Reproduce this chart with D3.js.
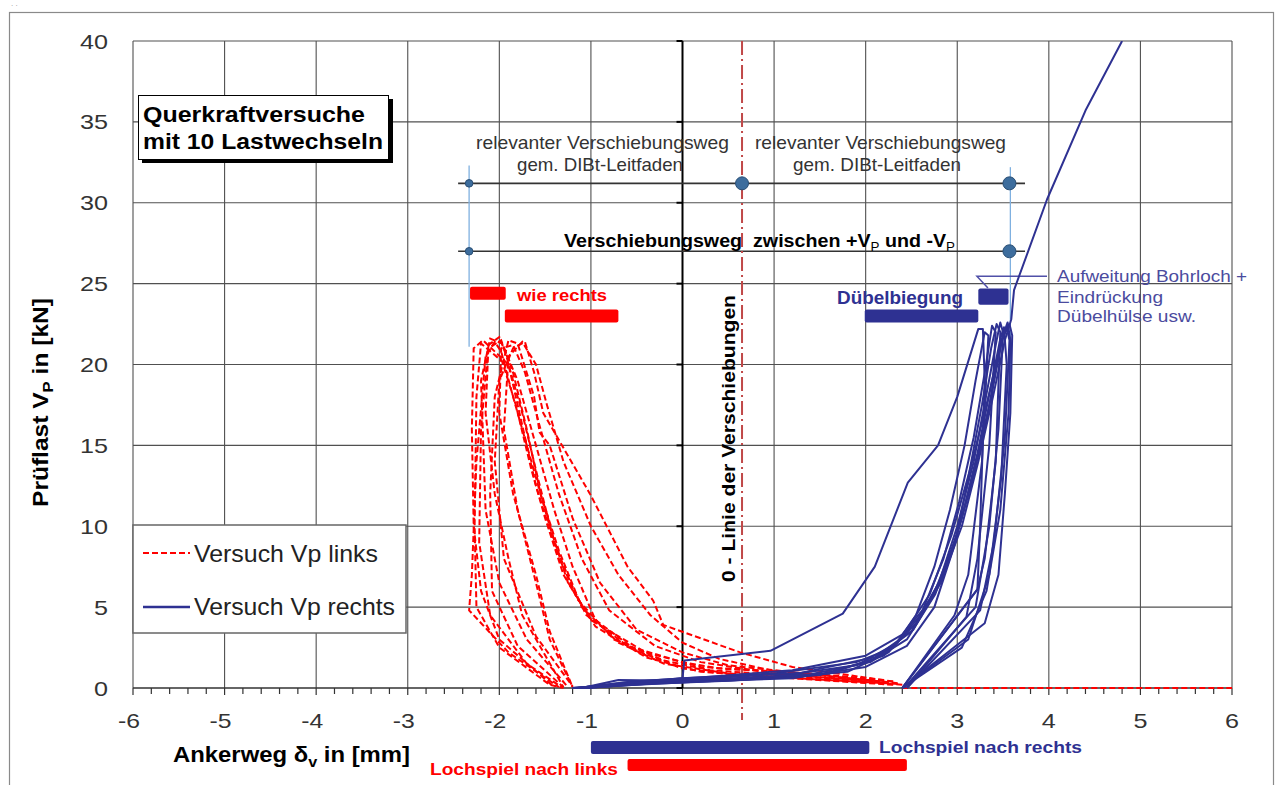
<!DOCTYPE html>
<html><head><meta charset="utf-8">
<script src="https://cdn.jsdelivr.net/npm/d3@7"></script>
<style>body{margin:0;background:#fff;} svg{display:block;} text{font-family:"Liberation Sans",Arial,sans-serif; white-space:pre;}</style>
</head><body><svg id="c" width="1278" height="785"></svg>
<script>
// ---------- data ----------
const xTicks = [-6,-5,-4,-3,-2,-1,0,1,2,3,4,5,6];
const yTicks = [0,5,10,15,20,25,30,35,40];

// left-direction load cycles (load magnitude vs. displacement), dashed red
const redCycles = [
  [[2.3,0.4],[1.2,1.3],[0.63,2.2],[-0.21,3.9],[-0.32,5.4],[-0.6,7.5],[-1.01,12],[-1.52,17],[-1.62,19.5],[-1.72,21.4],[-1.85,21.0],[-2.0,19],[-2.05,14],[-1.95,8],[-1.6,3.2],[-1.2,0.1]],
  [[2.35,0.3],[1.5,0.8],[0.5,1.4],[0,2.2],[-0.5,3.6],[-0.9,6.5],[-1.2,10.5],[-1.45,15],[-1.56,15.8],[-1.62,18],[-1.8,21.3],[-1.9,21.5],[-2.05,18],[-2.1,12],[-2.08,6],[-1.8,2.6],[-1.3,0.05]],
  [[2.2,0.5],[1.4,0.9],[0.4,1.2],[0,1.6],[-0.6,2.6],[-1.05,4.5],[-1.35,8],[-1.6,12.5],[-1.78,17],[-1.92,20.5],[-2.0,21.7],[-2.12,21.2],[-2.2,16],[-2.22,9],[-2.1,4.5],[-1.7,1.5],[-1.32,0.05]],
  [[2.3,0.2],[1.2,0.6],[0.2,1.0],[-0.4,1.9],[-0.95,3.8],[-1.25,6.5],[-1.45,10],[-1.65,14],[-1.85,18],[-1.98,20.8],[-2.05,21.4],[-2.15,20.5],[-2.25,14],[-2.3,7],[-2.33,4.8],[-1.9,2.2],[-1.35,0.05]],
  [[2.4,0.2],[1.6,0.5],[0.6,0.8],[0,1.2],[-0.5,2.3],[-0.95,4.2],[-1.2,7.5],[-1.4,11],[-1.6,15],[-1.8,19],[-1.97,21.3],[-2.1,21.6],[-2.2,19],[-2.15,11],[-2.0,6.5],[-1.7,3],[-1.25,0.05]],
  [[2.2,0.3],[1.0,0.9],[0.2,1.6],[-0.3,2.6],[-0.8,4.8],[-1.1,8],[-1.35,12],[-1.55,16],[-1.72,19.5],[-1.85,21.2],[-1.98,21.0],[-2.0,17],[-1.85,12],[-1.6,7],[-1.45,3.5],[-1.2,0.05]],
  [[2.3,0.4],[1.3,0.7],[0.3,1.1],[-0.2,1.7],[-0.75,3],[-1.15,5.5],[-1.4,9],[-1.58,13],[-1.75,17],[-1.9,20],[-2.18,21.5],[-2.28,21.0],[-2.3,16],[-2.28,10],[-2.2,6],[-2.0,3],[-1.4,0.05]],
  [[2.1,0.5],[1.1,1.0],[0.2,1.3],[-0.4,2.2],[-1.0,4.2],[-1.3,7],[-1.5,10.5],[-1.65,13.5],[-1.82,17.5],[-1.97,20.2],[-2.2,21.3],[-2.25,18],[-2.27,10],[-2.25,5],[-2.0,2.5],[-1.45,0.2],[-1.3,0]],
  [[2.35,0.25],[1.4,0.55],[0.5,0.9],[-0.2,1.5],[-0.7,2.8],[-1.1,5],[-1.35,8.5],[-1.55,12],[-1.7,16],[-1.85,19.5],[-1.98,21.5],[-2.12,21.0],[-2.15,17],[-2.05,12],[-1.9,8],[-1.75,4.5],[-1.3,0.05]],
  [[2.25,0.35],[1.2,0.8],[0.4,1.8],[0,2.8],[-0.35,4.5],[-0.7,7],[-1.0,10],[-1.3,14],[-1.48,17.5],[-1.6,20],[-1.75,21.4],[-1.9,20.5],[-1.95,16],[-1.8,11],[-1.6,6.5],[-1.45,3],[-1.2,0.05]]
];
const redTail = [[2.4,0],[6,0]];

// right-direction load cycles, solid blue
const blueCycles = [
  [[-1.2,0],[-0.5,0.3],[0,0.6],[0.02,1.7],[0.96,2.3],[1.75,4.6],[2.1,7.5],[2.46,12.7],[2.79,15],[3.0,18],[3.23,22.2],[3.28,22.2],[3.3,19],[3.25,10],[3.22,6.1],[2.4,0]],
  [[-1.15,0],[-0.6,0.35],[0,0.6],[1,0.9],[1.9,1.6],[2.3,2.5],[2.55,4.5],[2.75,7.5],[2.92,11],[3.08,15],[3.2,19],[3.3,22.0],[3.34,21.8],[3.27,14],[3.12,7],[2.97,4.5],[2.4,0]],
  [[-1.1,0],[-0.7,0.5],[0,0.45],[1,0.6],[1.8,1.0],[2.25,2.2],[2.6,4.5],[2.85,8],[3.02,11.5],[3.18,15.5],[3.3,19.5],[3.38,22.4],[3.42,22.0],[3.35,15],[3.22,8],[3.1,4.4],[2.45,0]],
  [[-1.2,0],[-0.5,0.2],[0.2,0.4],[1.2,0.6],[2.0,1.3],[2.45,2.6],[2.75,5],[2.98,9],[3.12,13],[3.27,17.5],[3.37,21],[3.43,22.5],[3.47,22.0],[3.42,14],[3.3,8],[3.22,6.1],[2.4,0]],
  [[-1.05,0],[-0.4,0.25],[0.5,0.45],[1.5,0.8],[2.1,1.8],[2.5,3.5],[2.8,6.5],[3.0,10],[3.18,14],[3.33,18.5],[3.43,21.5],[3.47,22.6],[3.5,22.0],[3.45,16],[3.35,10],[3.2,5],[2.42,0]],
  [[-1.1,0],[-0.3,0.3],[0.6,0.5],[1.6,0.9],[2.2,2.0],[2.55,4],[2.85,7],[3.05,10.5],[3.22,14.5],[3.38,19],[3.47,21.6],[3.51,22.3],[3.54,20],[3.48,13],[3.35,7],[3.12,3],[2.4,0]],
  [[-1.15,0],[-0.55,0.4],[0.3,0.7],[1.2,1.1],[2.0,2.0],[2.4,3.3],[2.72,5.5],[2.97,9],[3.15,12.5],[3.32,16.5],[3.46,21],[3.54,22.3],[3.57,21.5],[3.52,15.5],[3.4,9],[3.25,4.8],[2.45,0]],
  [[-1.2,0],[-0.6,0.25],[0.2,0.5],[1.0,0.7],[1.9,1.4],[2.35,2.8],[2.7,5.8],[2.94,9.5],[3.14,13.5],[3.34,18],[3.48,21.5],[3.57,22.5],[3.6,21.8],[3.58,17],[3.52,12],[3.45,7],[3.3,4],[2.4,0]],
  [[-1.05,0],[-0.4,0.3],[0.4,0.55],[1.4,0.85],[2.05,1.6],[2.45,3],[2.76,5.8],[3.0,9.5],[3.2,13.8],[3.37,18],[3.5,21.8],[3.55,22.6],[3.58,21.5],[3.56,17],[3.47,11],[3.32,6],[3.05,2.5],[2.4,0]],
  [[-1.1,0],[-0.5,0.35],[0.3,0.6],[1.3,0.95],[2.1,1.9],[2.52,3.6],[2.82,6.5],[3.05,10],[3.23,14],[3.39,18],[3.52,21.5],[3.59,22.8],[3.62,24.6],[3.98,30.2],[4.4,35.7],[4.8,40]]
];

// annotation spans (data units)
const zeroLineX = 0.65;
const dimLevels = [31.2, 27.0];
const dimSpan = [-2.45, 3.74];
const dimMarks = [[-2.33,31.2,3.8],[0.65,31.2,6.5],[3.57,31.2,6.5],[-2.33,27.0,3.8],[3.57,27.0,6.5]];
const redTopBars = [[-2.32,-1.93,24.8,24.0],[-1.94,-0.70,23.4,22.6]];
const blueTopBars = [[1.99,3.23,23.4,22.6],[3.23,3.56,24.7,23.7]];

// ---------- drawing ----------
const svg = d3.select('#c');
const x = d3.scaleLinear().domain([-6,6]).range([133,1232]);
const y = d3.scaleLinear().domain([0,40]).range([688,41]);

function label(parent, str, px, py, o={}) {
  const t = parent.append('text').attr('x',px).attr('y',py).text(str)
    .attr('font-size', o.size||18).attr('font-weight', o.bold?'bold':'normal')
    .attr('fill', o.fill||'#000').attr('text-anchor', o.anchor||'start');
  if (o.w) t.attr('textLength',o.w).attr('lengthAdjust','spacingAndGlyphs');
  if (o.rotate) t.attr('transform',`rotate(${o.rotate},${px},${py})`);
  return t;
}
function rich(parent, parts, px, py, o={}) {
  const size = o.size||18;
  const t = parent.append('text').attr('x',px).attr('y',py)
    .attr('font-size', size).attr('font-weight', o.bold?'bold':'normal').attr('fill', o.fill||'#000');
  let shifted = false;
  parts.forEach(p => {
    const s = t.append('tspan').text(p.t);
    if (p.sub) { s.attr('font-size', size*0.68).attr('dy', size*0.22); if (p.normal) s.attr('font-weight','normal'); shifted = true; }
    else if (shifted) { s.attr('dy', -size*0.22); shifted = false; }
  });
  if (o.w) t.attr('textLength',o.w).attr('lengthAdjust','spacingAndGlyphs');
  if (o.rotate) t.attr('transform',`rotate(${o.rotate},${px},${py})`);
  return t;
}

// outer frame
svg.append('rect').attr('x',9.5).attr('y',12.5).attr('width',1264).attr('height',800)
  .attr('fill','none').attr('stroke','#8a8a8a').attr('stroke-width',1.2);
svg.append('text').attr('x',11).attr('y',6).attr('font-size',8).attr('fill','#999').text('. .');

// grid
const grid = svg.append('g');
xTicks.filter(t=>t!==0).forEach(t => grid.append('line')
  .attr('x1',x(t)).attr('x2',x(t)).attr('y1',y(0)).attr('y2',y(40))
  .attr('stroke','#505050').attr('stroke-width',1.1));
yTicks.filter(t=>t!==0).forEach(t => grid.append('line')
  .attr('x1',x(-6)).attr('x2',x(6)).attr('y1',y(t)).attr('y2',y(t))
  .attr('stroke','#505050').attr('stroke-width',1.1));

// x axis line + ticks
grid.append('line').attr('x1',x(-6)).attr('x2',x(6)).attr('y1',y(0)).attr('y2',y(0))
  .attr('stroke','#333').attr('stroke-width',1.5);
d3.range(-30,31).forEach(k => {
  const v = k/5;
  grid.append('line').attr('x1',x(v)).attr('x2',x(v)).attr('y1',y(0)).attr('y2',y(0)+(k%5===0?7:6))
    .attr('stroke','#333').attr('stroke-width',1.2);
});
// y axis at x=0
grid.append('line').attr('x1',x(0)).attr('x2',x(0)).attr('y1',y(0)).attr('y2',y(40))
  .attr('stroke','#000').attr('stroke-width',2);
yTicks.forEach(t => grid.append('line').attr('x1',x(0)-6).attr('x2',x(0)).attr('y1',y(t)).attr('y2',y(t))
  .attr('stroke','#000').attr('stroke-width',2));

// tick labels
yTicks.forEach(t => label(svg, String(t), 108, y(t)+7.5, {size:21, fill:'#333', anchor:'end', w:14*String(t).length}));
xTicks.forEach(t => {
  const w = 14 + (t<0?8:0);
  label(svg, String(t), x(t) - (t<0?4:0), 728, {size:21, fill:'#333', anchor:'middle', w:w});
});

// axis titles
rich(svg, [{t:'Prüflast V'},{t:'P',sub:true},{t:' in [kN]'}], 48, 507, {size:22, bold:true, rotate:-90, w:209});
rich(svg, [{t:'Ankerweg δ'},{t:'v',sub:true},{t:' in [mm]'}], 173, 762, {size:22, bold:true, w:237});

// dimension / annotation lines
const ann = svg.append('g');
dimLevels.forEach(l => ann.append('line').attr('x1',x(dimSpan[0])).attr('x2',x(dimSpan[1]))
  .attr('y1',y(l)).attr('y2',y(l)).attr('stroke','#333').attr('stroke-width',1.6));
ann.append('line').attr('x1',x(-2.33)).attr('x2',x(-2.33)).attr('y1',y(32.3)).attr('y2',y(21.1))
  .attr('stroke','#7fb0e0').attr('stroke-width',1.3);
ann.append('line').attr('x1',x(3.58)).attr('x2',x(3.58)).attr('y1',y(32.2)).attr('y2',y(17.0))
  .attr('stroke','#7fb0e0').attr('stroke-width',1.3);

// relevant displacement texts
label(ann, 'relevanter Verschiebungsweg', 476, 149, {size:19, fill:'#333', w:253});
label(ann, 'gem. DIBt-Leitfaden', 517, 171, {size:19, fill:'#333', w:166});
label(ann, 'relevanter Verschiebungsweg', 755, 149, {size:19, fill:'#333', w:251});
label(ann, 'gem. DIBt-Leitfaden', 793, 171, {size:19, fill:'#333', w:168});
rich(ann, [{t:'Verschiebungsweg  zwischen +V'},{t:'P',sub:true,normal:true},{t:' und -V'},{t:'P',sub:true,normal:true}], 564, 247, {size:18, bold:true, w:391});

// zero line of displacement (dash-dot)
ann.append('line').attr('x1',x(zeroLineX)).attr('x2',x(zeroLineX)).attr('y1',y(40)).attr('y2',y(0)+32)
  .attr('stroke','#c04848').attr('stroke-width',2).attr('stroke-dasharray','14,4,2,4');
label(ann, '0 - Linie der Verschiebungen', 735, 582, {size:19, bold:true, rotate:-90, w:287});

// bars
redTopBars.forEach(b => ann.append('rect').attr('x',x(b[0])).attr('width',x(b[1])-x(b[0]))
  .attr('y',y(b[2])).attr('height',y(b[3])-y(b[2])).attr('rx',2).attr('fill','#ff0000'));
blueTopBars.forEach(b => ann.append('rect').attr('x',x(b[0])).attr('width',x(b[1])-x(b[0]))
  .attr('y',y(b[2])).attr('height',y(b[3])-y(b[2])).attr('rx',2).attr('fill','#2e3192'));
label(ann, 'wie rechts', 517, 301, {size:17, bold:true, fill:'#ff0000', w:90});
label(ann, 'Dübelbiegung', 837, 304, {size:18, bold:true, fill:'#2e3192', w:126});

// right annotation leader
ann.append('polyline').attr('points', `${x(3.335)},${y(24.73)} ${x(3.215)},${y(25.46)} ${x(3.98)},${y(25.46)}`)
  .attr('fill','none').attr('stroke','#5050a8').attr('stroke-width',1.5);
label(ann, 'Aufweitung Bohrloch +', 1057, 282, {size:17, fill:'#4b4b9e', w:190});
label(ann, 'Eindrückung', 1057, 303, {size:17, fill:'#4b4b9e', w:106});
label(ann, 'Dübelhülse usw.', 1057, 322, {size:17, fill:'#4b4b9e', w:139});

// bottom clearance bars
ann.append('rect').attr('x',x(-1.0)).attr('width',x(2.04)-x(-1.0)).attr('y',741).attr('height',13).attr('rx',2).attr('fill','#2e3192');
ann.append('rect').attr('x',x(-0.6)).attr('width',x(2.45)-x(-0.6)).attr('y',759).attr('height',12).attr('rx',2).attr('fill','#ff0000');
label(ann, 'Lochspiel nach rechts', 879, 753, {size:17, bold:true, fill:'#2e3192', w:203});
label(ann, 'Lochspiel nach links', 430, 775, {size:17, bold:true, fill:'#ff0000', w:188});

// curves
svg.append('clipPath').attr('id','pc').append('rect').attr('x',133).attr('y',41).attr('width',1100).attr('height',652);
const curves = svg.append('g').attr('clip-path','url(#pc)');
const line = d3.line().x(d=>x(d[0])).y(d=>y(d[1]));
redCycles.concat([redTail]).forEach(c => curves.append('path').attr('d', line(c))
  .attr('fill','none').attr('stroke','#ff0000').attr('stroke-width',2).attr('stroke-dasharray','6,3'));
blueCycles.forEach(c => curves.append('path').attr('d', line(c))
  .attr('fill','none').attr('stroke','#2e3192').attr('stroke-width',2).attr('stroke-linejoin','round'));

// dimension dots on top
dimMarks.forEach(m => ann.append('circle').attr('cx',x(m[0])).attr('cy',y(m[1])).attr('r',m[2])
  .attr('fill','#3d6d9d').attr('stroke','#2a4f75').attr('stroke-width',1));

// title box
svg.append('rect').attr('x',142).attr('y',99).attr('width',251).attr('height',64).attr('fill','#000');
svg.append('rect').attr('x',138.5).attr('y',95.5).attr('width',250).attr('height',64).attr('fill','#fff').attr('stroke','#000').attr('stroke-width',1);
label(svg, 'Querkraftversuche', 143, 122, {size:22, bold:true, w:222});
label(svg, 'mit 10 Lastwechseln', 143, 149, {size:22, bold:true, w:240});

// legend
const lg = svg.append('g');
lg.append('rect').attr('x',133).attr('y',525).attr('width',273).attr('height',108)
  .attr('fill','#fff').attr('stroke','#666').attr('stroke-width',1.5);
lg.append('line').attr('x1',143).attr('x2',190).attr('y1',553).attr('y2',553)
  .attr('stroke','#ff0000').attr('stroke-width',2).attr('stroke-dasharray','6,3');
lg.append('line').attr('x1',143).attr('x2',190).attr('y1',607).attr('y2',607)
  .attr('stroke','#2e3192').attr('stroke-width',2.5);
label(lg, 'Versuch Vp links', 194, 562, {size:24, fill:'#222', w:184});
label(lg, 'Versuch Vp rechts', 194, 615, {size:24, fill:'#222', w:201});
</script></body></html>
